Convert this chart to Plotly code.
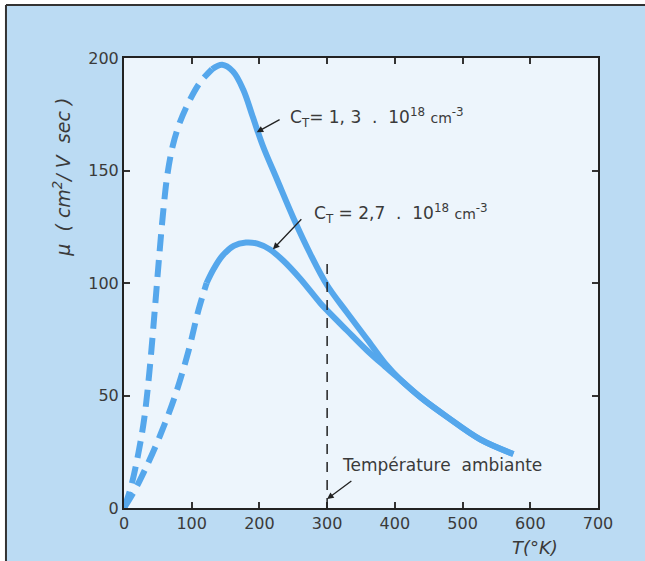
import plotly.graph_objects as go

# Curve C_T = 1,3 . 10^18 cm-3
t1_dash = [0, 10, 21, 30, 38, 46, 52, 58, 64, 72, 82, 95, 112, 130]
mu1_dash = [0, 9, 24, 40, 62, 90, 112, 132, 148, 161, 171, 180, 189, 195]
t1_solid = [130, 145, 161, 176, 190, 205, 226, 250, 275, 300, 329, 359, 385, 410, 440, 477, 526, 575]
mu1_solid = [195, 197, 194, 186, 174, 161, 146, 129, 113, 99, 87, 75, 64.5, 56.5, 48.7, 40.5, 30.5, 24]

# Curve C_T = 2,7 . 10^18 cm-3
t2_dash = [0, 16, 31, 53, 75, 95, 110, 122]
mu2_dash = [0, 8, 17, 32, 49.5, 69.5, 88, 100]
t2_solid = [122, 132, 145, 162, 180, 197, 215, 235, 260, 290, 301, 329, 359, 385, 410, 440, 477, 526, 575]
mu2_solid = [100, 106, 112, 116.5, 118, 117.5, 115, 110, 102, 91, 87.5, 79, 70, 63, 56.5, 48.7, 40.5, 30.5, 24]

x_ticks = [0, 100, 200, 300, 400, 500, 600, 700]
y_ticks = [0, 50, 100, 150, 200]
t_ambient = 300

CURVE = "#55a7ec"
BLUE_BG = "#bbdbf3"
PLOT_BG = "#edf5fc"
TXT = "#3a3a3a"
FONT = "DejaVu Sans"

fig = go.Figure()
for tx, my, dash in [(t1_dash, mu1_dash, "17px,9px"), (t1_solid, mu1_solid, "solid"),
                     (t2_dash, mu2_dash, "17px,9px"), (t2_solid, mu2_solid, "solid")]:
    fig.add_trace(go.Scatter(x=tx, y=my, mode="lines",
                             line=dict(color=CURVE, width=6, dash=dash, shape="spline", smoothing=1.0),
                             showlegend=False, hoverinfo="skip"))

# frame / backgrounds  (plot area: px 124..598 x 58..508)
fig.add_shape(type="rect", xref="paper", yref="paper", x0=-0.249, x1=1.2, y0=-0.2, y1=1.118,
              fillcolor=BLUE_BG, line=dict(width=0), layer="below")
fig.add_shape(type="rect", xref="paper", yref="paper", x0=0, x1=1, y0=0, y1=1,
              fillcolor=PLOT_BG, line=dict(width=0), layer="below")
fig.add_shape(type="line", xref="paper", yref="paper", x0=-0.249, x1=-0.249, y0=-0.2, y1=1.118,
              line=dict(color="#333", width=2), layer="below")
fig.add_shape(type="line", xref="paper", yref="paper", x0=-0.249, x1=1.2, y0=1.118, y1=1.118,
              line=dict(color="#333", width=2), layer="below")

# room temperature line
fig.add_shape(type="line", xref="x", yref="y", x0=t_ambient, x1=t_ambient, y0=0, y1=110,
              line=dict(color="#222", width=1.5, dash="10px,8px"))

ann = []
lab_font = dict(family=FONT, size=17, color=TXT)
ann.append(dict(x=196, y=167, ax=232, ay=173, xref="x", yref="y", axref="x", ayref="y",
                text="", showarrow=True, arrowhead=2, arrowsize=1, arrowwidth=1.3, arrowcolor="#222"))
ann.append(dict(x=242, y=173.5, xref="x", yref="y", xanchor="left", yanchor="middle", showarrow=False,
                text="C<sub>T</sub>= 1, 3  .  10<sup>18</sup> <span style='font-size:14px'>cm</span><sup>-3</sup>",
                font=lab_font))
ann.append(dict(x=220, y=115, ax=264, ay=129, xref="x", yref="y", axref="x", ayref="y",
                text="", showarrow=True, arrowhead=2, arrowsize=1, arrowwidth=1.3, arrowcolor="#222"))
ann.append(dict(x=278, y=131, xref="x", yref="y", xanchor="left", yanchor="middle", showarrow=False,
                text="C<sub>T</sub> = 2,7  .  10<sup>18</sup> <span style='font-size:14px'>cm</span><sup>-3</sup>",
                font=lab_font))
ann.append(dict(x=300, y=4, ax=338, ay=12.5, xref="x", yref="y", axref="x", ayref="y",
                text="", showarrow=True, arrowhead=2, arrowsize=1, arrowwidth=1.3, arrowcolor="#222"))
ann.append(dict(x=319, y=19, xref="x", yref="y", xanchor="left", yanchor="middle", showarrow=False,
                text="Température  ambiante", font=lab_font))
ann.append(dict(x=-0.131, y=0.736, xref="paper", yref="paper", xanchor="center", yanchor="middle",
                textangle=-90, showarrow=False,
                text="<i>μ  ( cm<sup>2</sup>/ V  sec )</i>", font=dict(family=FONT, size=19, color=TXT)))
ann.append(dict(x=0.867, y=-0.087, xref="paper", yref="paper", xanchor="center", yanchor="middle",
                showarrow=False, text="<i>T(°K)</i>", font=dict(family=FONT, size=18, color=TXT)))

axis_common = dict(showgrid=False, zeroline=False, showline=True, linecolor="#222", linewidth=2,
                   mirror="ticks", ticks="inside", ticklen=6, tickcolor="#333", tickwidth=1.5,
                   tickfont=dict(family=FONT, size=16, color=TXT))
fig.update_layout(
    width=645, height=561,
    margin=dict(l=124, r=47, t=58, b=53),
    paper_bgcolor="white", plot_bgcolor=PLOT_BG,
    xaxis=dict(range=[0, 700], tickvals=x_ticks, **axis_common),
    yaxis=dict(range=[0, 200], tickvals=y_ticks, **axis_common),
    annotations=ann,
    showlegend=False,
)
fig.write_html("out.html",
               config={"displayModeBar": False},
               post_script="document.body.style.margin='0';"
                           "document.body.style.overflow='hidden';"
                           "document.documentElement.style.overflow='hidden';")
